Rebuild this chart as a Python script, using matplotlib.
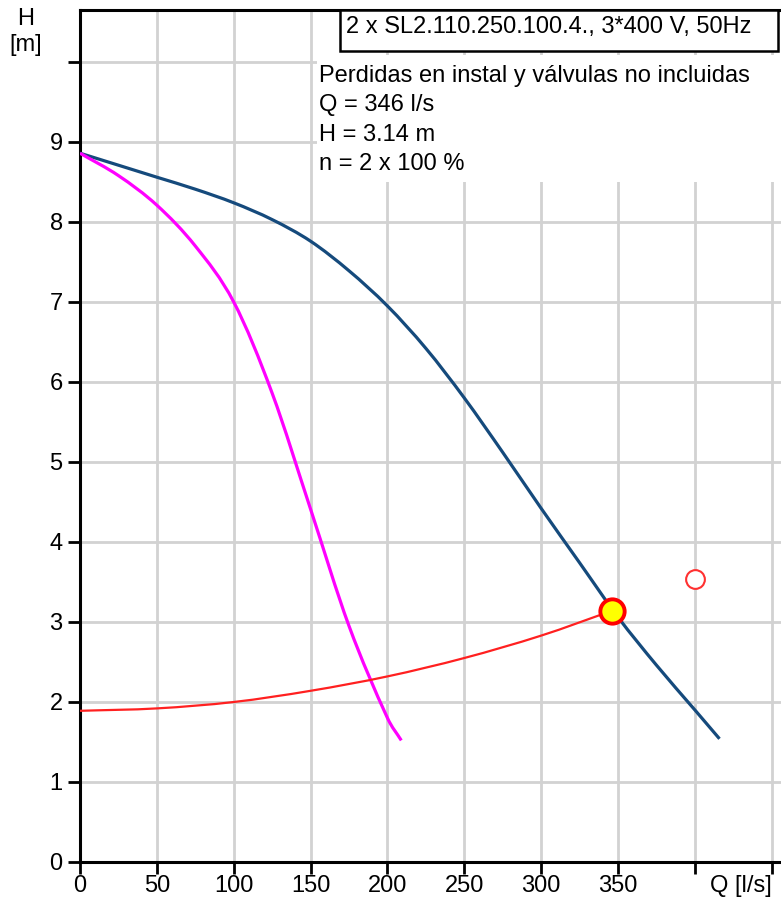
import matplotlib
matplotlib.use("Agg")
import matplotlib.pyplot as plt
from matplotlib.patches import Rectangle, PathPatch
from matplotlib.path import Path

plt.rcParams['font.family'] = ['Liberation Sans', 'DejaVu Sans']

# Pump curve (2 pumps in parallel), dark blue
q_pump = [0, 25, 50, 75, 100, 125, 150, 175, 200, 225, 250, 275, 300, 325, 350, 375, 400, 416]
h_pump = [8.86, 8.71, 8.56, 8.41, 8.24, 8.03, 7.76, 7.39, 6.95, 6.42, 5.80, 5.12, 4.42, 3.74, 3.06, 2.46, 1.90, 1.54]

# Single pump curve, magenta
q_single = [0, 25, 50, 75, 100, 125, 150, 175, 200, 209]
h_single = [8.86, 8.58, 8.21, 7.70, 7.00, 5.86, 4.41, 2.95, 1.80, 1.52]

# System curve, red
q_sys = [0, 50, 100, 150, 200, 250, 300, 346]
h_sys = [1.89, 1.92, 2.00, 2.14, 2.32, 2.55, 2.83, 3.14]

# Duty point and requested point
duty_q, duty_h = 346, 3.14
req_q, req_h = 400, 3.54

x_ticks = [0, 50, 100, 150, 200, 250, 300, 350, 400, 450]
x_labels = ['0', '50', '100', '150', '200', '250', '300', '350', '', '']
y_ticks = list(range(0, 11))
y_labels = ['0', '1', '2', '3', '4', '5', '6', '7', '8', '9', '']

title_box = "2 x SL2.110.250.100.4., 3*400 V, 50Hz"
info_lines = ["Perdidas en instal y válvulas no incluidas",
              "Q = 346 l/s",
              "H = 3.14 m",
              "n = 2 x 100 %"]

W, H = 781, 899
FS = 17


def smooth_path(xs, ys):
    """Smooth Hermite-style Bezier path through the read points (x as parameter)."""
    n = len(xs)

    def slope(i):
        if i == 0:
            return (ys[1] - ys[0]) / (xs[1] - xs[0])
        if i == n - 1:
            return (ys[-1] - ys[-2]) / (xs[-1] - xs[-2])
        return (ys[i + 1] - ys[i - 1]) / (xs[i + 1] - xs[i - 1])

    verts = [(xs[0], ys[0])]
    codes = [Path.MOVETO]
    for i in range(n - 1):
        dx = xs[i + 1] - xs[i]
        c1 = (xs[i] + dx / 3.0, ys[i] + slope(i) * dx / 3.0)
        c2 = (xs[i + 1] - dx / 3.0, ys[i + 1] - slope(i + 1) * dx / 3.0)
        verts += [c1, c2, (xs[i + 1], ys[i + 1])]
        codes += [Path.CURVE4] * 3
    return Path(verts, codes)


fig = plt.figure(figsize=(W/100, H/100), dpi=100)
ax = fig.add_axes([80/W, 1-862/H, 1-80/W, 852/H])
ax.set_xlim(0, 456)
ax.set_ylim(0, 10.65)

ax.set_xticks(x_ticks)
ax.set_xticklabels(x_labels)
ax.set_yticks(y_ticks)
ax.set_yticklabels(y_labels)
ax.tick_params(axis='both', direction='out', length=8.5, width=2, labelsize=FS)
ax.tick_params(axis='x', pad=0.5)
ax.tick_params(axis='y', pad=4)
ax.grid(True, color='#d2d2d2', linewidth=2)
ax.set_axisbelow(True)
for s in ['left', 'bottom', 'top']:
    ax.spines[s].set_linewidth(2.2)
ax.spines['right'].set_visible(False)

ax.add_patch(PathPatch(smooth_path(q_pump, h_pump), fc='none', ec='#154a7c', lw=2.3,
                       capstyle='butt', zorder=3))
ax.add_patch(PathPatch(smooth_path(q_single, h_single), fc='none', ec='#ff00ff', lw=2.3,
                       capstyle='butt', zorder=3))
ax.add_patch(PathPatch(smooth_path(q_sys, h_sys), fc='none', ec='#ff2020', lw=1.6, zorder=4))
ax.plot([duty_q], [duty_h], 'o', ms=17.5, mfc='#ffff00', mec='#ff0000', mew=2.8, zorder=5)
ax.plot([req_q], [req_h], 'o', ms=13.5, mfc='white', mec='#ff3030', mew=1.5, zorder=5)

# axis labels
fig.text(26/W, 1-19/H, "H", fontsize=FS, ha='center', va='center')
fig.text(26/W, 1-45/H, "[m]", fontsize=FS, ha='center', va='center')
fig.text(741/W, 1-886/H, "Q [l/s]", fontsize=FS, ha='center', va='center')

# white area behind info text
fig.patches.append(Rectangle((317/W, 1-182/H), (W-317)/W, 127/H, transform=fig.transFigure,
                             fc='white', ec='none', zorder=8))
# title box
fig.patches.append(Rectangle((340/W, 1-51/H), (778-340)/W, 41/H, transform=fig.transFigure,
                             fc='white', ec='black', lw=1.8, zorder=9))
fig.text(346/W, 1-33/H, title_box, fontsize=FS, ha='left', va='baseline', zorder=10)
for i, line in enumerate(info_lines):
    fig.text(319/W, 1-(82+29.3*i)/H, line, fontsize=FS, ha='left', va='baseline', zorder=10)

fig.savefig("out.png", dpi=100)
